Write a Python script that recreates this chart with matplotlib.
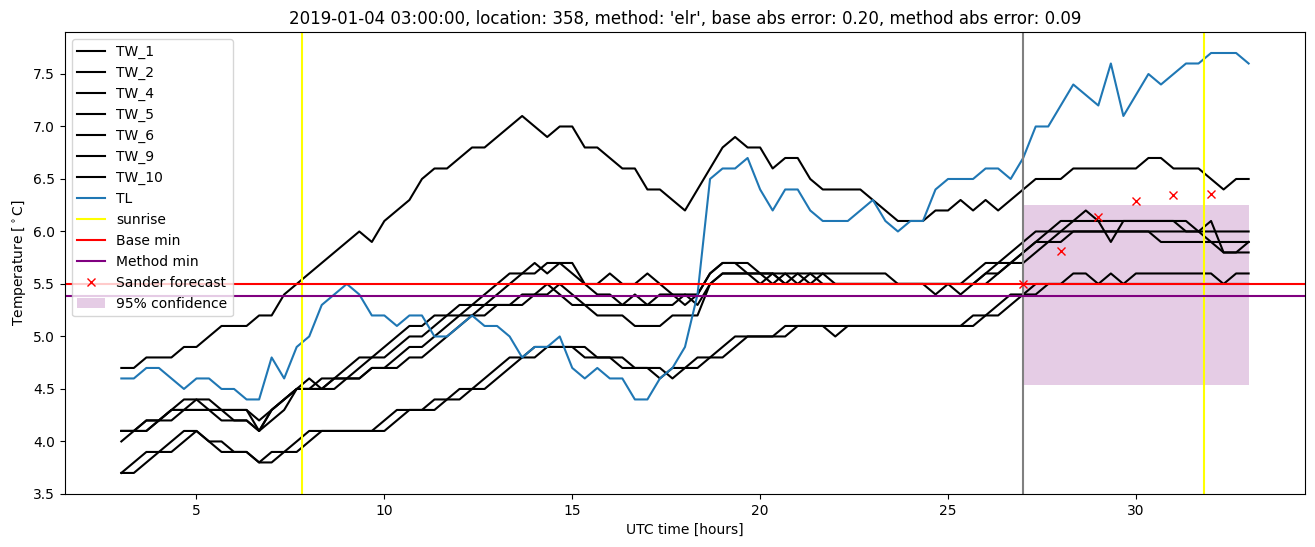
import numpy as np
import matplotlib
matplotlib.use("Agg")
import matplotlib.pyplot as plt

# 20-minute samples from 03:00 to 33:00 (UTC hours since start of day)
hours = 3 + np.arange(91) / 3.0

tw_1 = [4.1, 4.1, 4.2, 4.2, 4.3, 4.4, 4.4, 4.3, 4.3, 4.3, 4.3, 4.2,
        4.3, 4.4, 4.5, 4.6, 4.5, 4.6, 4.7, 4.8, 4.8, 4.9, 5.0, 5.1,
        5.1, 5.2, 5.2, 5.3, 5.3, 5.4, 5.5, 5.6, 5.6, 5.7, 5.6, 5.7,
        5.6, 5.5, 5.5, 5.6, 5.5, 5.5, 5.6, 5.5, 5.4, 5.4, 5.4, 5.6,
        5.7, 5.7, 5.7, 5.6, 5.6, 5.6, 5.6, 5.6, 5.6, 5.6, 5.6, 5.6,
        5.6, 5.6, 5.5, 5.5, 5.5, 5.5, 5.5, 5.5, 5.6, 5.7, 5.7, 5.8,
        5.9, 6.0, 6.0, 6.1, 6.1, 6.2, 6.1, 6.1, 6.1, 6.1, 6.1, 6.1,
        6.1, 6.0, 6.0, 5.9, 5.9, 5.9, 5.9]
tw_2 = [4.0, 4.1, 4.2, 4.2, 4.3, 4.3, 4.3, 4.3, 4.2, 4.2, 4.2, 4.1,
        4.3, 4.4, 4.5, 4.5, 4.5, 4.6, 4.6, 4.6, 4.7, 4.7, 4.8, 4.9,
        4.9, 5.0, 5.1, 5.2, 5.2, 5.3, 5.3, 5.3, 5.4, 5.4, 5.4, 5.5,
        5.4, 5.3, 5.3, 5.3, 5.3, 5.3, 5.3, 5.3, 5.3, 5.4, 5.3, 5.5,
        5.6, 5.6, 5.6, 5.6, 5.5, 5.6, 5.5, 5.6, 5.5, 5.5, 5.5, 5.5,
        5.5, 5.5, 5.5, 5.5, 5.5, 5.5, 5.5, 5.5, 5.5, 5.6, 5.6, 5.7,
        5.8, 5.9, 5.9, 6.0, 6.0, 6.0, 6.0, 6.0, 6.0, 6.0, 6.0, 6.0,
        6.0, 6.0, 6.0, 6.0, 6.0, 6.0, 6.0]
tw_4 = [3.7, 3.8, 3.9, 3.9, 4.0, 4.1, 4.1, 4.0, 3.9, 3.9, 3.9, 3.8,
        3.9, 3.9, 4.0, 4.1, 4.1, 4.1, 4.1, 4.1, 4.1, 4.2, 4.3, 4.3,
        4.3, 4.4, 4.4, 4.5, 4.5, 4.6, 4.7, 4.8, 4.8, 4.9, 4.9, 4.9,
        4.9, 4.8, 4.8, 4.8, 4.7, 4.7, 4.7, 4.6, 4.7, 4.7, 4.8, 4.8,
        4.9, 5.0, 5.0, 5.0, 5.0, 5.1, 5.1, 5.1, 5.1, 5.1, 5.1, 5.1,
        5.1, 5.1, 5.1, 5.1, 5.1, 5.1, 5.1, 5.1, 5.2, 5.2, 5.3, 5.4,
        5.4, 5.5, 5.5, 5.5, 5.6, 5.6, 5.5, 5.6, 5.5, 5.6, 5.6, 5.6,
        5.6, 5.6, 5.6, 5.6, 5.5, 5.6, 5.6]
tw_5 = [4.7, 4.7, 4.8, 4.8, 4.8, 4.9, 4.9, 5.0, 5.1, 5.1, 5.1, 5.2,
        5.2, 5.4, 5.5, 5.6, 5.7, 5.8, 5.9, 6.0, 5.9, 6.1, 6.2, 6.3,
        6.5, 6.6, 6.6, 6.7, 6.8, 6.8, 6.9, 7.0, 7.1, 7.0, 6.9, 7.0,
        7.0, 6.8, 6.8, 6.7, 6.6, 6.6, 6.4, 6.4, 6.3, 6.2, 6.4, 6.6,
        6.8, 6.9, 6.8, 6.8, 6.6, 6.7, 6.7, 6.5, 6.4, 6.4, 6.4, 6.4,
        6.3, 6.2, 6.1, 6.1, 6.1, 6.2, 6.2, 6.3, 6.2, 6.3, 6.2, 6.3,
        6.4, 6.5, 6.5, 6.5, 6.6, 6.6, 6.6, 6.6, 6.6, 6.6, 6.7, 6.7,
        6.6, 6.6, 6.6, 6.5, 6.4, 6.5, 6.5]
tw_6 = [4.1, 4.1, 4.1, 4.2, 4.3, 4.3, 4.4, 4.4, 4.3, 4.3, 4.3, 4.1,
        4.3, 4.4, 4.5, 4.5, 4.6, 4.6, 4.6, 4.7, 4.8, 4.8, 4.9, 5.0,
        5.0, 5.1, 5.2, 5.2, 5.3, 5.3, 5.4, 5.5, 5.6, 5.6, 5.7, 5.7,
        5.7, 5.5, 5.4, 5.4, 5.3, 5.4, 5.3, 5.4, 5.4, 5.3, 5.4, 5.6,
        5.7, 5.7, 5.6, 5.5, 5.6, 5.5, 5.6, 5.5, 5.6, 5.5, 5.5, 5.5,
        5.5, 5.5, 5.5, 5.5, 5.5, 5.4, 5.5, 5.4, 5.5, 5.6, 5.7, 5.7,
        5.8, 5.9, 6.0, 6.0, 6.1, 6.1, 6.1, 5.9, 6.1, 6.1, 6.1, 6.1,
        6.1, 6.1, 6.0, 6.1, 5.8, 5.8, 5.9]
tw_9 = [4.1, 4.1, 4.1, 4.2, 4.2, 4.3, 4.3, 4.3, 4.3, 4.2, 4.2, 4.1,
        4.2, 4.3, 4.5, 4.5, 4.5, 4.5, 4.6, 4.6, 4.7, 4.7, 4.7, 4.8,
        4.8, 4.9, 5.0, 5.1, 5.2, 5.2, 5.3, 5.3, 5.3, 5.4, 5.5, 5.4,
        5.3, 5.3, 5.2, 5.2, 5.2, 5.1, 5.1, 5.1, 5.2, 5.2, 5.2, 5.5,
        5.6, 5.6, 5.6, 5.6, 5.6, 5.5, 5.5, 5.5, 5.5, 5.5, 5.5, 5.5,
        5.5, 5.5, 5.5, 5.5, 5.5, 5.5, 5.5, 5.5, 5.5, 5.5, 5.6, 5.7,
        5.7, 5.8, 5.9, 5.9, 6.0, 6.0, 6.0, 6.0, 6.0, 6.0, 6.0, 5.9,
        5.9, 5.9, 5.9, 5.9, 5.8, 5.8, 5.8]
tw_10 = [3.7, 3.7, 3.8, 3.9, 3.9, 4.0, 4.1, 4.0, 4.0, 3.9, 3.9, 3.8,
         3.8, 3.9, 3.9, 4.0, 4.1, 4.1, 4.1, 4.1, 4.1, 4.1, 4.2, 4.3,
         4.3, 4.3, 4.4, 4.4, 4.5, 4.5, 4.6, 4.7, 4.8, 4.8, 4.9, 4.9,
         4.9, 4.9, 4.8, 4.8, 4.8, 4.7, 4.7, 4.7, 4.6, 4.7, 4.7, 4.8,
         4.8, 4.9, 5.0, 5.0, 5.0, 5.0, 5.1, 5.1, 5.1, 5.0, 5.1, 5.1,
         5.1, 5.1, 5.1, 5.1, 5.1, 5.1, 5.1, 5.1, 5.1, 5.2, 5.2, 5.3,
         5.4, 5.4, 5.5, 5.5, 5.5, 5.5, 5.5, 5.5, 5.5, 5.5, 5.5, 5.5,
         5.5, 5.5, 5.5, 5.5, 5.5, 5.5, 5.5]
tl = [4.6, 4.6, 4.7, 4.7, 4.6, 4.5, 4.6, 4.6, 4.5, 4.5, 4.4, 4.4,
      4.8, 4.6, 4.9, 5.0, 5.3, 5.4, 5.5, 5.4, 5.2, 5.2, 5.1, 5.2,
      5.2, 5.0, 5.0, 5.1, 5.2, 5.1, 5.1, 5.0, 4.8, 4.9, 4.9, 5.0,
      4.7, 4.6, 4.7, 4.6, 4.6, 4.4, 4.4, 4.6, 4.7, 4.9, 5.4, 6.5,
      6.6, 6.6, 6.7, 6.4, 6.2, 6.4, 6.4, 6.2, 6.1, 6.1, 6.1, 6.2,
      6.3, 6.1, 6.0, 6.1, 6.1, 6.4, 6.5, 6.5, 6.5, 6.6, 6.6, 6.5,
      6.7, 7.0, 7.0, 7.2, 7.4, 7.3, 7.2, 7.6, 7.1, 7.3, 7.5, 7.4,
      7.5, 7.6, 7.6, 7.7, 7.7, 7.7, 7.6]

tw_series = {"TW_1": tw_1, "TW_2": tw_2, "TW_4": tw_4, "TW_5": tw_5,
             "TW_6": tw_6, "TW_9": tw_9, "TW_10": tw_10}

sunrise = [7.82, 31.8]
forecast_start = 27
base_min = 5.5
method_min = 5.39
sander_hours = [27, 28, 29, 30, 31, 32]
sander_values = [5.50, 5.81, 6.14, 6.29, 6.35, 6.36]
conf_low, conf_high = 4.54, 6.25
conf_hours = [27, 33]

fig = plt.figure(figsize=(13.15, 5.47), dpi=100)
ax = fig.add_axes([0.0494, 0.097, 0.9430, 0.8445])

for name, vals in tw_series.items():
    ax.plot(hours, vals, color="black", label=name)
ax.plot(hours, tl, color="C0", label="TL")

ax.axvline(sunrise[0], color="yellow", label="sunrise")
ax.axvline(sunrise[1], color="yellow")
ax.axvline(forecast_start, color="grey")
ax.axhline(base_min, color="red", label="Base min")
ax.axhline(method_min, color="purple", label="Method min")
ax.plot(sander_hours, sander_values, "rx", label="Sander forecast")
ax.fill_between(conf_hours, conf_low, conf_high, color="purple", alpha=0.2,
                linewidth=0, label="95% confidence")

ax.set_xlabel("UTC time [hours]")
ax.set_ylabel(r"Temperature [$^\circ$C]")
ax.set_title("2019-01-04 03:00:00, location: 358, method: 'elr', "
             "base abs error: 0.20, method abs error: 0.09")
ax.legend(loc="upper left")

fig.savefig("out.png")
